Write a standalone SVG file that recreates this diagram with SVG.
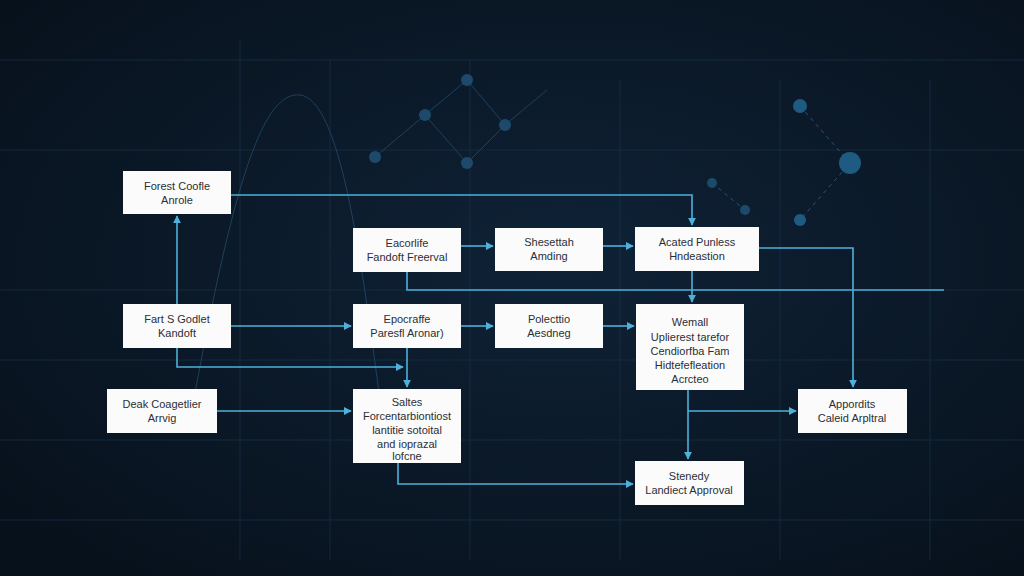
<svg xmlns="http://www.w3.org/2000/svg" width="1024" height="576" viewBox="0 0 1024 576">
<defs>
<radialGradient id="bg" cx="0.55" cy="0.45" r="0.7"><stop offset="0" stop-color="#0f2236"/><stop offset="1" stop-color="#07111c"/></radialGradient>
<marker id="ar" viewBox="0 0 10 10" refX="9" refY="5" markerWidth="5" markerHeight="5" orient="auto"><path d="M0,0L10,5L0,10z" fill="#4fb0dc"/></marker>
</defs>
<style>
.n{fill:#fbfbfb}
.t{font-family:"Liberation Sans",Arial,sans-serif;font-size:11px;fill:#2a2f36;text-anchor:middle}
.c{fill:none;stroke:#4fb0dc;stroke-width:1.6;marker-end:url(#ar)}
.l{fill:none;stroke:#4fb0dc;stroke-width:1.6}
.g{stroke:#1b3650;stroke-width:1;fill:none;opacity:.6}
.d{fill:#1d4a6a}
</style>
<rect width="1024" height="576" fill="url(#bg)"/>
<g class="g">
<path d="M0,60H1024M0,150H1024M0,290H1024M0,360H1024M0,440H1024M0,520H1024"/>
<path d="M240,40V560M330,60V560M470,60V560M620,80V560M780,80V560M930,80V560"/>
<path d="M190,420C230,200 260,90 300,95C340,100 360,250 380,400" stroke="#2a5a80"/>
<path d="M375,157L425,115L467,163L505,125L547,90M425,115L467,80L505,125" stroke="#2a5a80"/>
<path d="M800,106L850,163L800,220M712,183L745,210" stroke="#3a7aa8" stroke-dasharray="4 4"/>
</g>
<g>
<circle class="d" cx="375" cy="157" r="6"/><circle class="d" cx="425" cy="115" r="6"/><circle class="d" cx="467" cy="163" r="6"/><circle class="d" cx="505" cy="125" r="6"/><circle class="d" cx="467" cy="80" r="6"/>
<circle cx="800" cy="106" r="7" fill="#1f5a80"/><circle cx="850" cy="163" r="11" fill="#1f5a80"/><circle cx="800" cy="220" r="6" fill="#1f5a80"/><circle class="d" cx="712" cy="183" r="5"/><circle class="d" cx="745" cy="210" r="5"/>
</g>
<g id="connectors">
<path class="c" d="M231,195H692V225"/>
<path class="c" d="M177,304V216"/>
<path class="c" d="M231,326H351"/>
<path class="c" d="M177,348V367H403"/>
<path class="c" d="M407,348V387"/>
<path class="c" d="M217,411H351"/>
<path class="c" d="M461,246H493"/>
<path class="l" d="M407,272V290H944"/>
<path class="c" d="M461,326H493"/>
<path class="c" d="M603,246H633"/>
<path class="c" d="M603,326H634"/>
<path class="c" d="M692,271V302"/>
<path class="c" d="M759,248H853V387"/>
<path class="c" d="M688,390V459"/>
<path class="c" d="M688,411H796"/>
<path class="c" d="M398,463V484H633"/>
</g>
<g id="nA"><rect class="n" x="123" y="171" width="108" height="43"/><text class="t" x="177" y="190">Forest Coofle</text><text class="t" x="177" y="204">Anrole</text></g>
<g id="nB"><rect class="n" x="123" y="304" width="108" height="44"/><text class="t" x="177" y="323">Fart S Godlet</text><text class="t" x="177" y="337">Kandoft</text></g>
<g id="nC"><rect class="n" x="107" y="389" width="110" height="44"/><text class="t" x="162" y="408">Deak Coagetlier</text><text class="t" x="162" y="422">Arrvig</text></g>
<g id="nD"><rect class="n" x="353" y="228" width="108" height="44"/><text class="t" x="407" y="247">Eacorlife</text><text class="t" x="407" y="261">Fandoft Freerval</text></g>
<g id="nE"><rect class="n" x="353" y="304" width="108" height="44"/><text class="t" x="407" y="323">Epocraffe</text><text class="t" x="407" y="337">Paresfl Aronar)</text></g>
<g id="nF"><rect class="n" x="353" y="389" width="108" height="74"/><text class="t" x="407" y="406">Saltes</text><text class="t" x="407" y="420">Forcentarbiontiost</text><text class="t" x="407" y="434">lantitie sotoital</text><text class="t" x="407" y="448">and ioprazal</text><text class="t" x="407" y="460">lofcne</text></g>
<g id="nG"><rect class="n" x="495" y="228" width="108" height="43"/><text class="t" x="549" y="246">Shesettah</text><text class="t" x="549" y="260">Amding</text></g>
<g id="nH"><rect class="n" x="495" y="304" width="108" height="44"/><text class="t" x="549" y="323">Polecttio</text><text class="t" x="549" y="337">Aesdneg</text></g>
<g id="nI"><rect class="n" x="635" y="227" width="124" height="44"/><text class="t" x="697" y="246">Acated Punless</text><text class="t" x="697" y="260">Hndeastion</text></g>
<g id="nJ"><rect class="n" x="636" y="304" width="108" height="86"/><text class="t" x="690" y="326">Wemall</text><text class="t" x="690" y="341">Uplierest tarefor</text><text class="t" x="690" y="355">Cendiorfba Fam</text><text class="t" x="690" y="369">Hidtefefleation</text><text class="t" x="690" y="383">Acrcteo</text></g>
<g id="nK"><rect class="n" x="798" y="389" width="109" height="44"/><text class="t" x="852" y="408">Appordits</text><text class="t" x="852" y="422">Caleid Arpltral</text></g>
<g id="nL"><rect class="n" x="635" y="461" width="109" height="44"/><text class="t" x="689" y="480">Stenedy</text><text class="t" x="689" y="494">Landiect Approval</text></g>
</svg>
